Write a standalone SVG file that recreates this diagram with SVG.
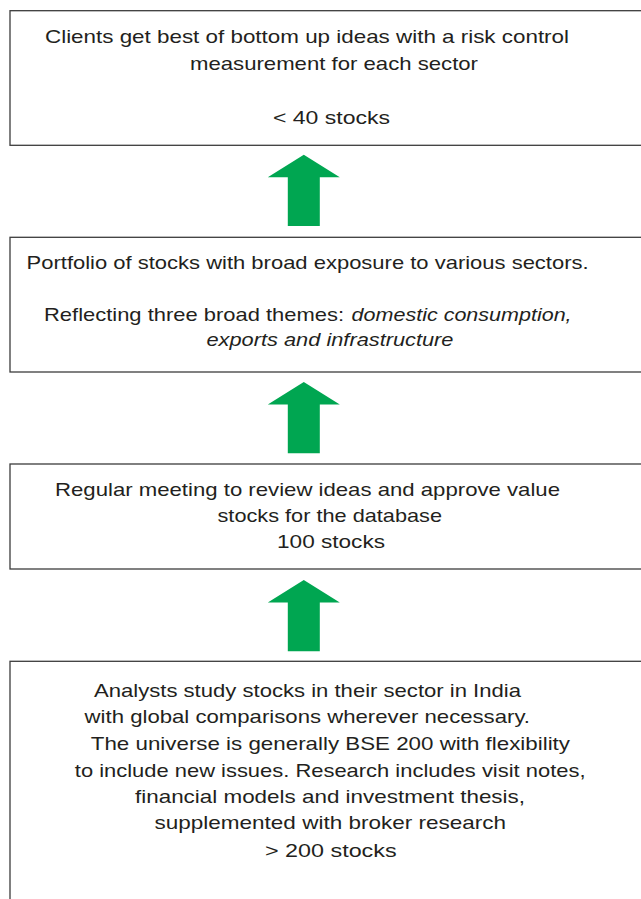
<svg xmlns="http://www.w3.org/2000/svg" xmlns:xlink="http://www.w3.org/1999/xlink" width="641" height="899" viewBox="0 0 641 899">
<style>
.box{fill:#ffffff;stroke:#3c3c3c;stroke-width:1.3}
.t{font-family:"Liberation Sans",Arial,sans-serif;font-size:19px;fill:#231f20}
.i{font-style:italic}
.arrow{fill:#00a651}
</style>
<defs>
<path id="up" d="M0,0 L36,22.5 L16,22.5 L16,71.3 L-16,71.3 L-16,22.5 L-36,22.5 Z"/>
</defs>
<rect x="0" y="0" width="641" height="899" fill="#ffffff"/>
<g id="node-clients">
<rect class="box" x="10" y="10.7" width="640" height="134.6"/>
<text class="t" x="45" y="42.7" textLength="524" lengthAdjust="spacingAndGlyphs">Clients get best of bottom up ideas with a risk control</text>
<text class="t" x="190" y="70" textLength="288" lengthAdjust="spacingAndGlyphs">measurement for each sector</text>
<text class="t" x="273" y="124" textLength="117" lengthAdjust="spacingAndGlyphs">&lt; 40 stocks</text>
</g>
<g id="node-portfolio">
<rect class="box" x="10" y="237.3" width="640" height="134.7"/>
<text class="t" x="26.6" y="269.3" textLength="562" lengthAdjust="spacingAndGlyphs">Portfolio of stocks with broad exposure to various sectors.</text>
<text class="t" x="44" y="321" textLength="300" lengthAdjust="spacingAndGlyphs">Reflecting three broad themes:</text>
<text class="t i" x="351.6" y="321" textLength="220" lengthAdjust="spacingAndGlyphs">domestic consumption,</text>
<text class="t i" x="206.5" y="346" textLength="247" lengthAdjust="spacingAndGlyphs">exports and infrastructure</text>
</g>
<g id="node-meeting">
<rect class="box" x="10" y="464" width="640" height="105"/>
<text class="t" x="55" y="496" textLength="505" lengthAdjust="spacingAndGlyphs">Regular meeting to review ideas and approve value</text>
<text class="t" x="217.5" y="521.7" textLength="224.5" lengthAdjust="spacingAndGlyphs">stocks for the database</text>
<text class="t" x="277" y="548.3" textLength="108" lengthAdjust="spacingAndGlyphs">100  stocks</text>
</g>
<g id="node-analysts">
<rect class="box" x="10" y="661.3" width="640" height="260"/>
<text class="t" x="94" y="696.7" textLength="427" lengthAdjust="spacingAndGlyphs">Analysts study stocks in their sector in India</text>
<text class="t" x="84.6" y="723.3" textLength="445.4" lengthAdjust="spacingAndGlyphs">with global comparisons wherever necessary.</text>
<text class="t" x="90.8" y="750" textLength="479.2" lengthAdjust="spacingAndGlyphs">The universe is generally BSE 200 with flexibility</text>
<text class="t" x="74.8" y="776.7" textLength="510.7" lengthAdjust="spacingAndGlyphs">to include new issues. Research includes visit notes,</text>
<text class="t" x="135" y="803.3" textLength="390" lengthAdjust="spacingAndGlyphs">financial models and investment thesis,</text>
<text class="t" x="154.5" y="829.3" textLength="351.5" lengthAdjust="spacingAndGlyphs">supplemented with broker research</text>
<text class="t" x="265" y="856.7" textLength="131.6" lengthAdjust="spacingAndGlyphs">&gt; 200 stocks</text>
</g>
<g id="connectors">
<use class="arrow" xlink:href="#up" x="303.8" y="154.7"/>
<use class="arrow" xlink:href="#up" x="303.8" y="382"/>
<use class="arrow" xlink:href="#up" x="303.8" y="580"/>
</g>
</svg>
